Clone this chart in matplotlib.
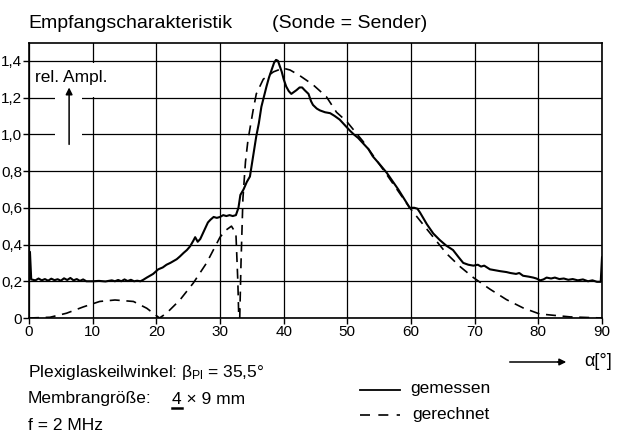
import matplotlib
matplotlib.use("Agg")
import matplotlib.pyplot as plt
from matplotlib.lines import Line2D
from matplotlib.patches import Rectangle
from matplotlib.ticker import FixedLocator, FuncFormatter

plt.rcParams['font.family'] = ['Liberation Sans', 'DejaVu Sans']
plt.rcParams['mathtext.fontset'] = 'custom'
plt.rcParams['mathtext.rm'] = 'Liberation Sans'
plt.rcParams['mathtext.it'] = 'Liberation Sans'

# gemessen (measured)
alpha_mess = [0.0, 0.15, 0.35, 1.0, 1.5, 2.0, 2.5, 3.0, 3.5, 4.0, 4.5, 5.0, 5.5, 6.0, 6.5, 7.0,
              7.5, 8.0, 8.5, 9.0, 10.0, 11.0, 12.0, 13.0, 13.5, 14.0, 14.5, 15.0, 15.5, 16.0,
              16.5, 17.0, 17.5, 17.9, 18.5, 19.5, 20.3, 21.0, 21.6, 22.2, 22.7, 23.2, 23.7,
              24.3, 24.8, 25.3, 25.8, 26.1, 26.5, 26.9, 27.3, 27.7, 28.1, 28.5, 29.0, 29.5,
              30.0, 30.5, 31.0, 31.5, 32.0, 32.5, 32.9, 33.2, 33.7, 34.2, 34.7, 35.2, 35.7,
              36.1, 36.5, 37.0, 37.3, 37.7, 38.1, 38.5, 38.8, 39.1, 39.4, 39.7, 40.0, 40.4,
              40.8, 41.2, 41.6, 42.0, 42.5, 42.9, 43.3, 43.9, 44.3, 44.6, 45.2, 45.7, 46.5,
              47.3, 48.0, 48.8, 49.6, 50.4, 51.0, 51.7, 52.5, 53.3, 54.0, 55.0, 56.2, 57.0,
              58.0, 59.0, 59.8, 60.5, 61.0, 61.4, 62.0, 62.5, 63.5, 64.5, 65.5, 66.6, 67.5,
              68.2, 69.0, 69.8, 70.5, 71.0, 71.5, 72.4, 73.2, 74.0, 75.0, 75.6, 76.5, 77.0,
              77.6, 78.5, 79.2, 79.7, 80.3, 80.8, 81.3, 82.0, 82.6, 83.3, 84.0, 84.7, 85.4,
              86.2, 87.0, 87.8, 88.5, 89.2, 89.8, 90.0]
amp_mess = [0.20, 0.36, 0.21, 0.205, 0.215, 0.205, 0.212, 0.203, 0.214, 0.206, 0.211, 0.203,
            0.216, 0.207, 0.218, 0.205, 0.212, 0.202, 0.21, 0.20, 0.20, 0.202, 0.199, 0.205,
            0.20, 0.207, 0.20, 0.21, 0.201, 0.208, 0.20, 0.203, 0.20, 0.207, 0.22, 0.24,
            0.265, 0.275, 0.29, 0.30, 0.31, 0.32, 0.335, 0.355, 0.37, 0.39, 0.42, 0.44,
            0.415, 0.43, 0.46, 0.49, 0.52, 0.535, 0.55, 0.545, 0.55, 0.56, 0.555, 0.56,
            0.555, 0.56, 0.60, 0.67, 0.70, 0.74, 0.77, 0.88, 0.99, 1.06, 1.15, 1.22, 1.26,
            1.31, 1.35, 1.39, 1.405, 1.40, 1.37, 1.34, 1.30, 1.26, 1.235, 1.22, 1.23, 1.24,
            1.255, 1.255, 1.24, 1.22, 1.18, 1.16, 1.14, 1.13, 1.12, 1.115, 1.10, 1.08, 1.05,
            1.02, 1.00, 0.98, 0.95, 0.92, 0.88, 0.84, 0.79, 0.75, 0.70, 0.645, 0.60, 0.60,
            0.595, 0.575, 0.54, 0.51, 0.46, 0.425, 0.395, 0.37, 0.33, 0.30, 0.29, 0.285,
            0.29, 0.28, 0.285, 0.265, 0.26, 0.255, 0.25, 0.245, 0.24, 0.245, 0.23, 0.225,
            0.22, 0.215, 0.205, 0.21, 0.22, 0.215, 0.22, 0.212, 0.215, 0.208, 0.212, 0.205,
            0.21, 0.20, 0.205, 0.197, 0.197, 0.33]

# gerechnet (calculated)
alpha_rech = [0.0, 3.3, 5.9, 8.5, 11.1, 13.5, 16.4, 18.5, 20.5, 21.6, 23.7, 25.8, 27.9, 30.0,
              31.0, 31.8, 32.5, 32.8, 32.95, 33.1, 33.3, 33.6, 34.0, 34.4, 35.2, 35.7, 36.8,
              38.4, 39.9, 41.0, 42.5, 44.6, 46.7, 48.3, 49.9, 52.5, 56.2, 59.8, 63.5, 65.6,
              67.7, 69.8, 72.4, 75.0, 77.6, 80.2, 85.0, 90.0]
amp_rech = [0.0, 0.004, 0.026, 0.06, 0.09, 0.098, 0.09, 0.053, 0.0, 0.026, 0.098, 0.19, 0.30,
            0.44, 0.48, 0.50, 0.46, 0.20, 0.0, 0.0, 0.30, 0.65, 0.85, 0.97, 1.13, 1.22, 1.30,
            1.34, 1.36, 1.35, 1.32, 1.27, 1.205, 1.12, 1.07, 0.96, 0.78, 0.60, 0.44, 0.35,
            0.28, 0.22, 0.157, 0.10, 0.055, 0.022, 0.006, 0.0]

x_ticks = [0, 10, 20, 30, 40, 50, 60, 70, 80, 90]
y_ticks = [0, 0.2, 0.4, 0.6, 0.8, 1.0, 1.2, 1.4]

W, H = 620, 433
fig = plt.figure(figsize=(6.2, 4.33), dpi=100)
ax = fig.add_axes([29 / W, 1 - 318 / H, 573 / W, 275 / H])


def fx(px):
    return px / W


def fy(py):
    return 1 - py / H


ax.set_xlim(0, 90)
ax.set_ylim(0, 1.497)
ax.xaxis.set_major_locator(FixedLocator(x_ticks))
ax.yaxis.set_major_locator(FixedLocator(y_ticks))
ax.yaxis.set_major_formatter(FuncFormatter(lambda v, p: "0" if v == 0 else f"{v:.1f}".replace(".", ",")))
ax.tick_params(length=4, width=1, color='black', labelsize=11, pad=1)
ax.grid(True, color='black', linewidth=0.9)
ax.set_axisbelow(True)
for s in ax.spines.values():
    s.set_linewidth(1.2)

# white areas round the axis label and arrow
ax.add_patch(Rectangle((0.3, 1.205), 10.3, 0.185, facecolor='white', edgecolor='none', zorder=1.5))
ax.add_patch(Rectangle((4.1, 0.9), 4.2, 0.31, facecolor='white', edgecolor='none', zorder=1.5))
ax.text(0.9, 1.31, "rel. Ampl.", fontsize=12.5, va='center', ha='left', zorder=3)
ax.annotate("", xy=(6.3, 1.27), xytext=(6.3, 0.93),
            arrowprops=dict(arrowstyle='-|>', color='black', lw=1.1, mutation_scale=10), zorder=3)

ax.plot(alpha_mess, amp_mess, color='black', linewidth=1.5, zorder=4)
ax.plot(alpha_rech, amp_rech, color='black', linewidth=1.2, dashes=(6, 4), zorder=4)

# title
fig.text(fx(28), fy(23), "Empfangscharakteristik", fontsize=14, va='center', ha='left')
fig.text(fx(272), fy(23), "(Sonde = Sender)", fontsize=14, va='center', ha='left')

# x axis arrow and label
fig.add_artist(Line2D([fx(510), fx(560)], [fy(362), fy(362)], color='black', linewidth=1.1))
ax.annotate("", xy=(fx(569), fy(362)), xytext=(fx(555), fy(362)), xycoords='figure fraction',
            arrowprops=dict(arrowstyle='-|>', color='black', lw=1.1, mutation_scale=10))
fig.text(fx(584), fy(361), r"α[°]", fontsize=13, va='center', ha='left')

# parameter block
fig.text(fx(28), fy(372), r"Plexiglaskeilwinkel: $\beta_{Pl}$ = 35,5°", fontsize=12.5, va='center', ha='left')
fig.text(fx(28), fy(399), "Membrangröße:", fontsize=12.5, va='center', ha='left')
fig.text(fx(172), fy(399), "4 × 9 mm", fontsize=12.5, va='center', ha='left')
fig.add_artist(Line2D([fx(172), fx(182)], [fy(408), fy(408)], color='black', linewidth=1.8))
fig.text(fx(28), fy(426), "f = 2 MHz", fontsize=12.5, va='center', ha='left')

# legend
fig.add_artist(Line2D([fx(360), fx(400)], [fy(390), fy(390)], color='black', linewidth=1.3))
fig.text(fx(410), fy(389), "gemessen", fontsize=12.5, va='center', ha='left')
fig.add_artist(Line2D([fx(360), fx(400)], [fy(415), fy(415)], color='black', linewidth=1.2,
                      dashes=(6, 5)))
fig.text(fx(412), fy(414), "gerechnet", fontsize=12.5, va='center', ha='left')

fig.savefig("out.png", dpi=100)
